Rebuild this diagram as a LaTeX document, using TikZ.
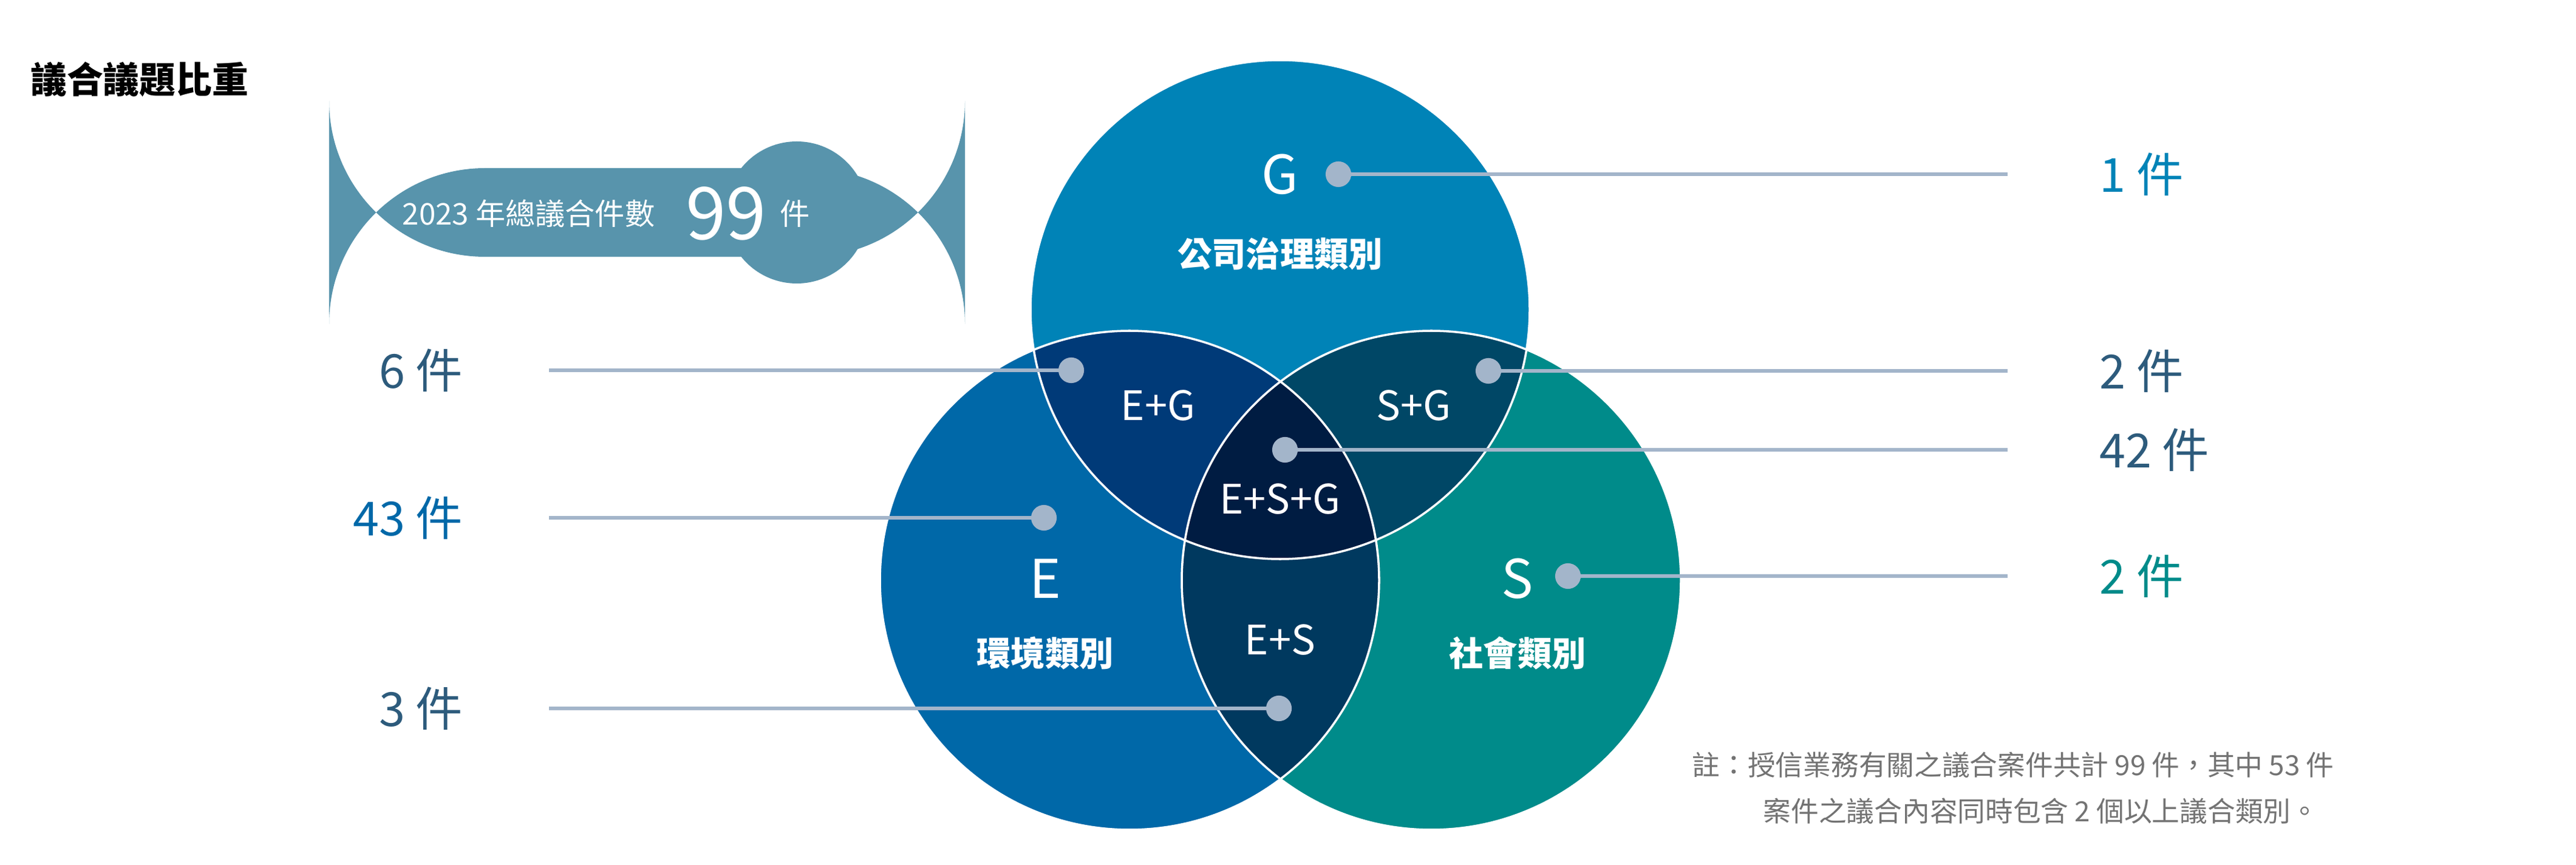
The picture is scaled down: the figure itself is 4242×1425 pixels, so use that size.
\documentclass[tikz,border=0pt]{standalone}
\usepackage{fontspec}
\setmainfont{Noto Sans CJK TC}
\usetikzlibrary{positioning}
\definecolor{Gblue}{HTML}{0083B7}
\definecolor{Eblue}{HTML}{0068A8}
\definecolor{Steal}{HTML}{008B8A}
\definecolor{EGc}{HTML}{003A78}
\definecolor{SGc}{HTML}{004766}
\definecolor{ESc}{HTML}{00395F}
\definecolor{ESGc}{HTML}{001C42}
\definecolor{Badge}{HTML}{5894AC}
\definecolor{Slate}{HTML}{2D5B7C}
\definecolor{Leader}{HTML}{A3B5CA}
\tikzset{
  dot/.style={circle,fill=Leader,inner sep=0pt,minimum size=24pt*0.5},
  leader/.style={Leader,line width=1.6pt},
  count/.style={font=\fontsize{22}{24}\selectfont,inner sep=0pt},
  region/.style={white,font=\fontsize{19}{22}\selectfont},
  letter/.style={white,font=\fontsize{25}{28}\selectfont},
  cat/.style={white,font=\bfseries\fontsize{16}{18}\selectfont}
}
\begin{document}
\begin{tikzpicture}[x=0.01cm,y=-0.01cm]
\useasboundingbox (0,0) rectangle (4242,1425);
% Title
\node [anchor=west,font=\bfseries\fontsize{17}{20}\selectfont] (title) at (38,131) {議合議題比重};
% Badge
\fill [Badge] (1312,350) circle (117);
\fill [Badge,rounded corners=73] (542,277) rectangle (1589,423);
\node [anchor=west,white,font=\fontsize{14}{16}\selectfont,inner sep=0pt] (total) at (662,352) {2023 年總議合件數};
\node [right=14pt of total,white,font=\fontsize{34}{36}\selectfont,inner sep=0pt] (nn) {99};
\node [right=6pt of nn,white,font=\fontsize{14}{16}\selectfont,inner sep=0pt] (unit) {件};
% Circles
\coordinate (cG) at (2108,510);
\coordinate (cE) at (1860,956);
\coordinate (cS) at (2357,956);
\fill [Gblue] (cG) circle (411);
\fill [Eblue] (cE) circle (411);
\fill [Steal] (cS) circle (411);
\begin{scope}
  \clip (cG) circle (411);
  \fill [EGc] (cE) circle (411);
  \fill [SGc] (cS) circle (411);
\end{scope}
\begin{scope}
  \clip (cE) circle (411);
  \fill [ESc] (cS) circle (411);
  \clip (cS) circle (411);
  \fill [ESGc] (cG) circle (411);
\end{scope}
\foreach \c in {cG,cE,cS}
  \draw [white,line width=1pt] (\c) circle (411);
% Region texts
\node [letter] (G) at (2108,287) {G};
\node [cat] (Gcat) at (2108,418) {公司治理類別};
\node [letter] (E) at (1721,953) {E};
\node [cat] (Ecat) at (1721,1076) {環境類別};
\node [letter] (S) at (2499,953) {S};
\node [cat] (Scat) at (2499,1076) {社會類別};
\node [region] (EG) at (1907,668) {E+G};
\node [region] (SG) at (2328,668) {S+G};
\node [region] (ESG) at (2108,822) {E+S+G};
\node [region] (ES) at (2108,1054) {E+S};
% Dots
\node [dot] (dG) at (2204,287) {};
\node [dot] (dEG) at (1764,610) {};
\node [dot] (dSG) at (2451,611) {};
\node [dot] (dESG) at (2116,741) {};
\node [dot] (dE) at (1719,853) {};
\node [dot] (dS) at (2582,949) {};
\node [dot] (dES) at (2106,1167) {};
% Right counts
\node [count,anchor=west,Gblue] (nG) at (3457,287) {1 件};
\node [count,anchor=west,Slate] (nSG) at (3457,611) {2 件};
\node [count,anchor=west,Slate] (nESG) at (3457,741) {42 件};
\node [count,anchor=west,Steal] (nS) at (3457,949) {2 件};
% Left counts
\node [count,anchor=east,Slate] (nEG) at (763,610) {6 件};
\node [count,anchor=east,Eblue] (nE) at (763,853) {43 件};
\node [count,anchor=east,Slate] (nES) at (763,1167) {3 件};
% Leaders
\foreach \d/\n in {dG/nG,dSG/nSG,dESG/nESG,dS/nS}
  \draw [leader] (\d.center) -- ([xshift=-43]\n.west);
\foreach \d/\n in {dEG/nEG,dE/nE,dES/nES}
  \draw [leader] (\d.center) -- ([xshift=40]\n.east);
% Note
\node [anchor=west,gray!90!black,font=\fontsize{13}{15}\selectfont,inner sep=0pt] (note1) at (2786,1260) {註：授信業務有關之議合案件共計 99 件，其中 53 件};
\node [anchor=west,gray!90!black,font=\fontsize{13}{15}\selectfont,inner sep=0pt] (note2) at (2903,1336) {案件之議合內容同時包含 2 個以上議合類別。};
\end{tikzpicture}
\end{document}
